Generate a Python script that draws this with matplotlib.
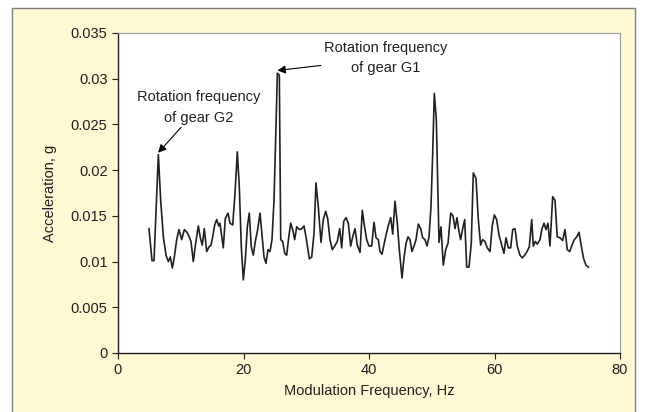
import matplotlib.pyplot as plt
from matplotlib.patches import Rectangle

# modulation spectrum
freq = [4.94, 5.42, 5.74, 6.43, 6.8, 7.23, 7.65, 8.02, 8.34, 8.66, 8.98, 9.35, 9.72,
        10.15, 10.57, 11.0, 11.36, 11.63, 12.0, 12.38, 12.8, 13.12, 13.43, 13.75,
        14.14, 14.5, 14.82, 15.09, 15.41, 15.73, 16.05, 16.25, 16.78, 17.1, 17.53,
        17.85, 18.28, 18.65, 19.01, 19.33, 19.65, 19.97, 20.29, 20.61, 20.92, 21.24,
        21.56, 21.88, 22.26, 22.63, 22.95, 23.27, 23.59, 23.9, 24.22, 24.54, 24.86,
        25.18, 25.39, 25.71, 25.93, 26.25, 26.57, 26.88, 27.2, 27.52, 27.84, 28.16,
        28.48, 28.9, 29.3, 29.64, 29.96, 30.49, 30.87, 31.24, 31.55, 31.92, 32.35,
        32.72, 33.1, 33.42, 33.78, 34.15, 34.53, 34.95, 35.33, 35.65, 35.97, 36.33,
        36.7, 37.08, 37.4, 37.77, 38.13, 38.57, 38.93, 39.25, 39.63, 40.0, 40.43,
        40.8, 41.12, 41.48, 41.75, 42.07, 42.71, 43.1, 43.46, 43.78, 44.14, 44.51,
        44.83, 45.26, 45.58, 45.9, 46.22, 46.53, 46.85, 47.17, 47.49, 47.86, 48.24,
        48.56, 48.92, 49.24, 49.56, 49.88, 50.15, 50.41, 50.73, 51.16, 51.47, 51.84,
        52.22, 52.59, 53.02, 53.39, 53.71, 54.02, 54.34, 54.6, 54.93, 55.25, 55.57,
        55.94, 56.3, 56.62, 57.05, 57.42, 57.79, 58.1, 58.48, 58.85, 59.28, 59.64,
        59.97, 60.34, 60.72, 61.08, 61.51, 61.83, 62.2, 62.58, 62.9, 63.27, 63.63,
        64.06, 64.43, 64.81, 65.18, 65.54, 65.93, 66.18, 66.5, 66.82, 67.25, 67.57,
        67.89, 68.2, 68.52, 68.84, 69.27, 69.64, 70.0, 70.44, 70.86, 71.23, 71.6,
        71.98, 72.35, 72.72, 73.1, 73.47, 73.83, 74.21, 74.58, 74.95]
accel = [0.0136, 0.0101, 0.0101, 0.0217, 0.0167, 0.0127, 0.0107, 0.0100, 0.0105,
         0.0093, 0.0105, 0.0124, 0.0135, 0.0124, 0.0135, 0.0132, 0.0127, 0.0122,
         0.0100, 0.0120, 0.0139, 0.0126, 0.0118, 0.0136, 0.0111, 0.0116, 0.0118,
         0.0127, 0.0140, 0.0146, 0.0139, 0.0142, 0.0115, 0.0147, 0.0153, 0.0142,
         0.0140, 0.0175, 0.0220, 0.0182, 0.0116, 0.0080, 0.0102, 0.0138, 0.0153,
         0.0116, 0.0107, 0.0122, 0.0135, 0.0153, 0.0129, 0.0105, 0.0098, 0.0113,
         0.0111, 0.0124, 0.0167, 0.0248, 0.0306, 0.0304, 0.0124, 0.0122, 0.0109,
         0.0107, 0.0126, 0.0142, 0.0135, 0.0124, 0.0138, 0.0135, 0.0136, 0.0139,
         0.0127, 0.0103, 0.0105, 0.0131, 0.0186, 0.0160, 0.0121, 0.0146, 0.0155,
         0.0147, 0.0124, 0.0113, 0.0117, 0.0122, 0.0136, 0.0115, 0.0144, 0.0148,
         0.0142, 0.0117, 0.0127, 0.0136, 0.0118, 0.0110, 0.0156, 0.0140, 0.0124,
         0.0117, 0.0117, 0.0143, 0.0126, 0.0124, 0.0111, 0.0108, 0.0129, 0.0140,
         0.0148, 0.0130, 0.0166, 0.0142, 0.0113, 0.0082, 0.0104, 0.0120, 0.0127,
         0.0124, 0.0111, 0.0117, 0.0124, 0.0141, 0.0136, 0.0126, 0.0124, 0.0117,
         0.0127, 0.0160, 0.0219, 0.0284, 0.0255, 0.0121, 0.0138, 0.0096, 0.0113,
         0.0120, 0.0153, 0.0150, 0.0136, 0.0148, 0.0133, 0.0124, 0.0136, 0.0146,
         0.0094, 0.0094, 0.0120, 0.0197, 0.0191, 0.0146, 0.0118, 0.0124, 0.0122,
         0.0115, 0.0111, 0.0139, 0.0151, 0.0146, 0.0129, 0.0120, 0.0109, 0.0126,
         0.0115, 0.0115, 0.0135, 0.0136, 0.0117, 0.0107, 0.0104, 0.0107, 0.0111,
         0.0116, 0.0146, 0.0117, 0.0122, 0.0119, 0.0124, 0.0136, 0.0142, 0.0135,
         0.0142, 0.0117, 0.0171, 0.0167, 0.0127, 0.0126, 0.0123, 0.0135, 0.0113,
         0.0111, 0.0118, 0.0124, 0.0127, 0.0132, 0.0117, 0.0103, 0.0096, 0.0094]

xticks = [0, 20, 40, 60, 80]
yticks = [0, 0.005, 0.01, 0.015, 0.02, 0.025, 0.03, 0.035]
ylabels = ['0', '0.005', '0.01', '0.015', '0.02', '0.025', '0.03', '0.035']

plt.rcParams['font.family'] = ['Liberation Sans', 'DejaVu Sans']

fig = plt.figure(figsize=(6.47, 4.12), dpi=100)
fig.patch.set_facecolor('white')
# yellow panel behind the chart
panel = Rectangle((12/647, -0.01), (635-12)/647, (412-8)/412 + 0.01,
                  transform=fig.transFigure, facecolor='#fef8d3',
                  edgecolor='#7f7f7f', linewidth=1.0, zorder=-5)
fig.add_artist(panel)

ax = fig.add_axes([118/647, 59/412, 502/647, 320/412])
ax.set_zorder(1)
ax.set_facecolor('white')
ax.plot(freq, accel, color='#231f20', linewidth=1.2)

ax.set_xlim(0, 80)
ax.set_ylim(0, 0.035)
ax.set_xticks(xticks)
ax.set_yticks(yticks)
ax.set_yticklabels(ylabels)
ax.tick_params(direction='out', length=4, width=0.8, labelsize=10.5, colors='#231f20')
for s in ['left', 'bottom']:
    ax.spines[s].set_color('#231f20')
    ax.spines[s].set_linewidth(1.0)
for s in ['top', 'right']:
    ax.spines[s].set_color('#9a9a9a')
    ax.spines[s].set_linewidth(0.8)

ax.set_xlabel('Modulation Frequency, Hz', fontsize=10.5, color='#231f20', labelpad=5)
ax.set_ylabel('Acceleration, g', fontsize=10.5, color='#231f20', labelpad=10)

arrow = dict(arrowstyle='-|>', color='black', lw=0.8, mutation_scale=12,
             shrinkA=0, shrinkB=0)
ax.annotate('Rotation frequency\nof gear G2', xy=(6.4, 0.0219), xytext=(12.9, 0.02685),
            ha='center', va='center', fontsize=10.5, arrowprops=arrow,
            linespacing=1.55, color='#231f20')
ax.annotate('Rotation frequency\nof gear G1', xy=(25.4, 0.0309), xytext=(42.6, 0.03227),
            ha='center', va='center', fontsize=10.5, arrowprops=arrow,
            linespacing=1.55, color='#231f20')

fig.savefig('out.png', dpi=100)
